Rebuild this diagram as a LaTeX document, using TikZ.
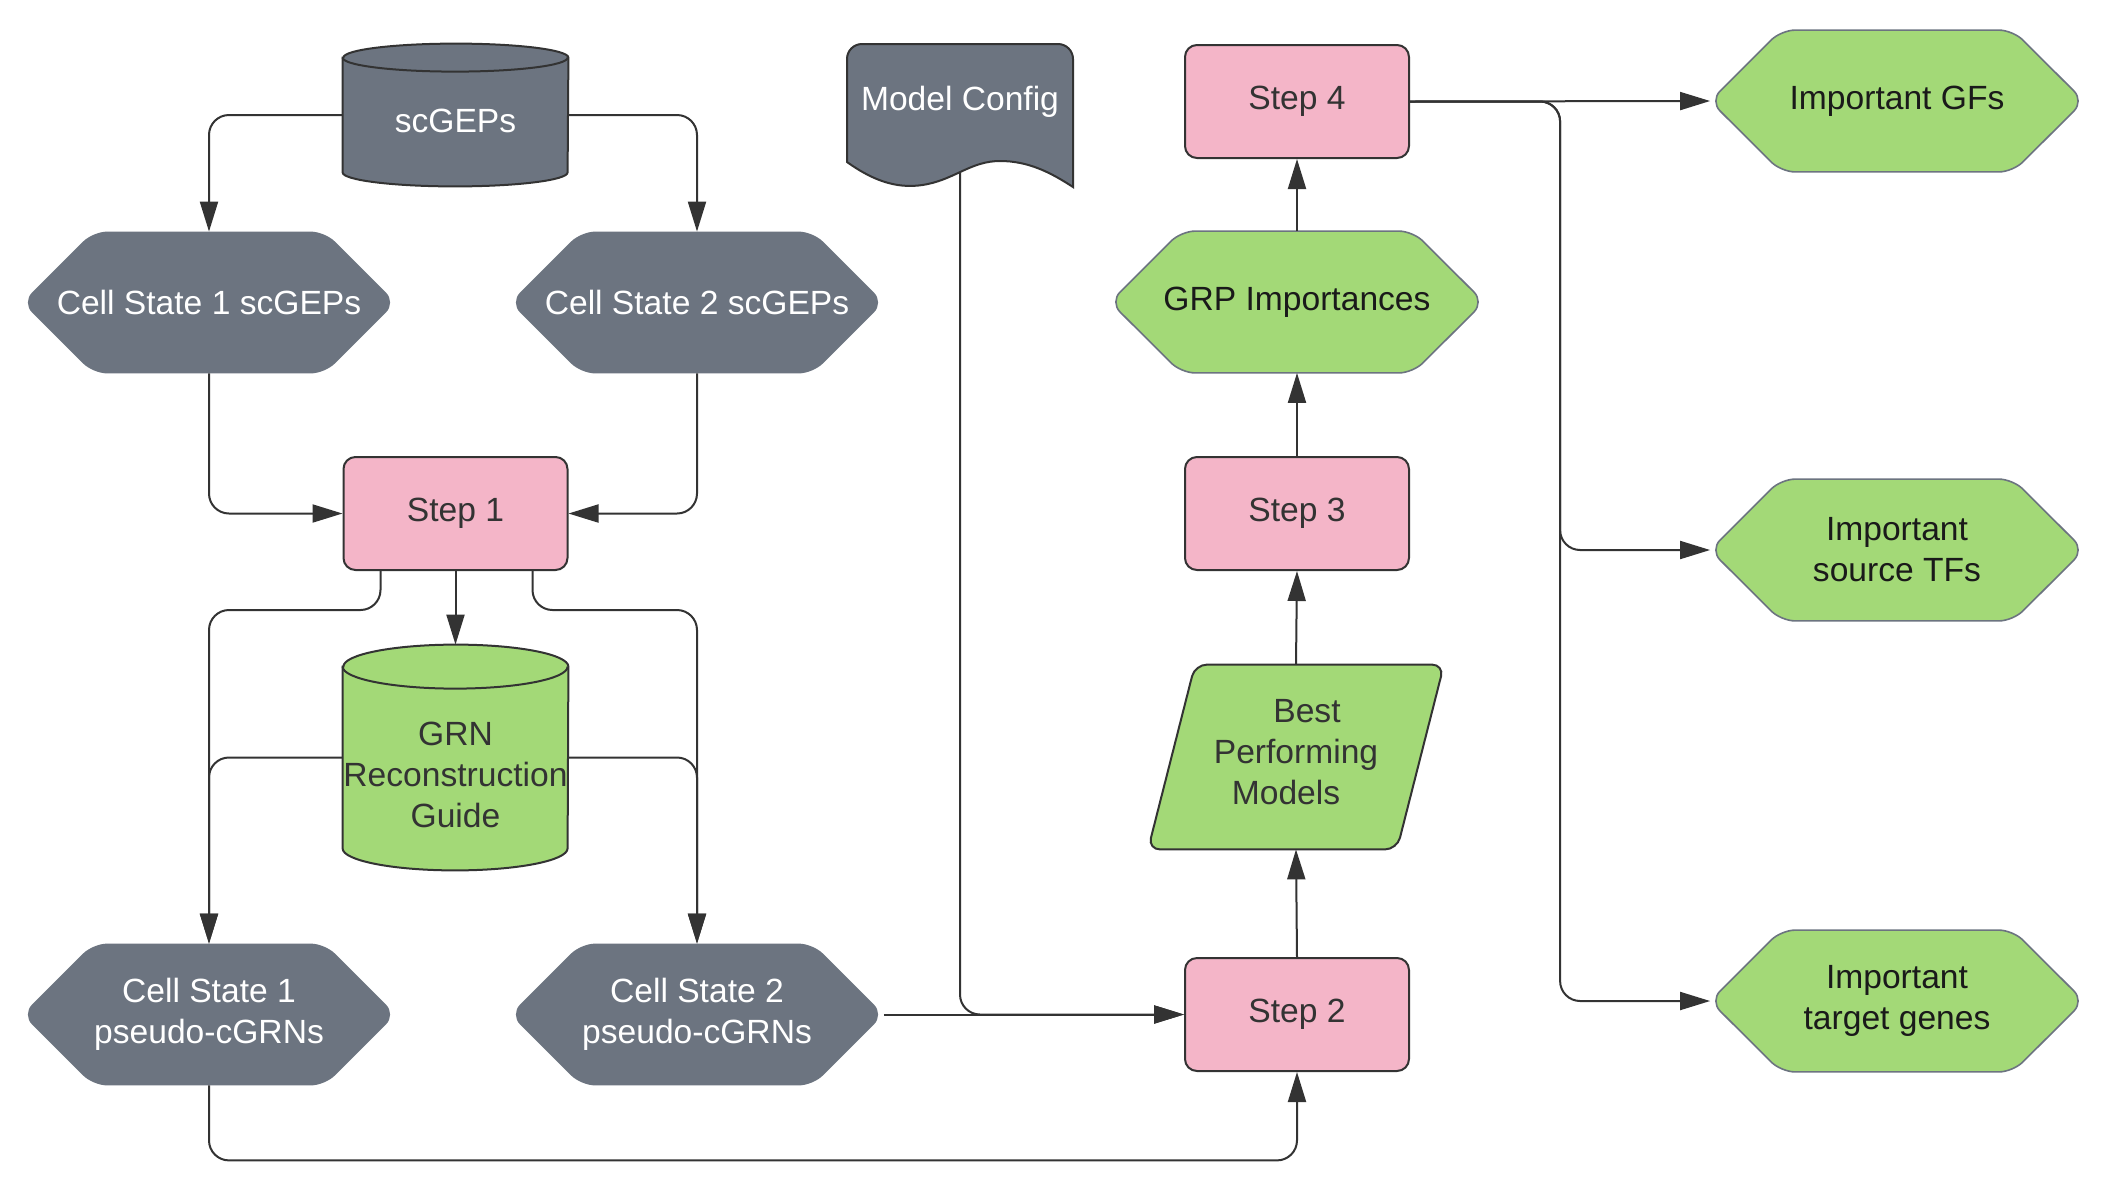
\documentclass[tikz,border=0pt]{standalone}
\usepackage{fontspec}
\setmainfont{Liberation Sans}
\usetikzlibrary{arrows.meta,calc}
\pgfdeclarelayer{bg}
\pgfsetlayers{bg,main}
\definecolor{cgray}{HTML}{6C7480}
\definecolor{cpink}{HTML}{F4B5C8}
\definecolor{cgreen}{HTML}{A3D977}
\definecolor{cline}{HTML}{333333}
\definecolor{ctext}{HTML}{333333}
\definecolor{cblack}{HTML}{1A1A1A}
% hexagon background: #1 node name, #2 style
\newcommand\myhexbg[2]{%
  \path[#2, rounded corners=7pt] (#1.north) -- ($(#1.north east)+(-71,0)$) -- (#1.east)
    -- ($(#1.south east)+(-71,0)$) -- ($(#1.south west)+(71,0)$) -- (#1.west)
    -- ($(#1.north west)+(71,0)$) -- cycle;}
% cylinder background: #1 node name, #2 y radius, #3 x radius
\newcommand\mycylbg[3]{%
  \path[fill=\cylfill, draw=cline, line width=1pt]
    ([yshift=-#2]#1.north west) -- ([yshift=#2]#1.south west)
    arc[start angle=180, end angle=360, x radius=#3, y radius=#2]
    -- ([yshift=-#2]#1.north east)
    arc[start angle=0, end angle=180, x radius=#3, y radius=#2] -- cycle;
  \path[draw=cline, line width=1pt] ([yshift=-#2]#1.north west)
    arc[start angle=180, end angle=360, x radius=#3, y radius=#2];}
\begin{document}
\begin{tikzpicture}[x=0.5pt,y=-0.5pt,
  base/.style={inner sep=0pt, align=center, font=\fontsize{16.8}{20.5}\selectfont},
  hexn/.style={base, minimum width=186.5pt, minimum height=70.5pt},
  grayhex/.style={fill=cgray},
  greenhex/.style={fill=cgreen, draw=cgray, line width=0.8pt},
  stepn/.style={base, draw=cline, line width=1pt, fill=cpink, rounded corners=6pt,
     minimum width=112pt, minimum height=56.5pt, text=ctext},
  conn/.style={draw=cline, line width=1pt, rounded corners=10pt,
     -{Triangle[length=15pt,width=9pt]}},
]
\useasboundingbox (0,0) rectangle (2117,1196);

% ---- nodes ----
\node[base, minimum width=112.5pt, minimum height=71pt] (scgeps) at (455.5,115) {};
\node[base, text=white] (scgepsT) at (455.5,121) {scGEPs};

\node[hexn, text=white] (cs1) at (209,302.5) {Cell State 1 scGEPs};
\node[hexn, text=white] (cs2) at (697,302.5) {Cell State 2 scGEPs};

\node[stepn] (step1) at (455.5,513.5) {Step 1};

\node[base, minimum width=112.5pt, minimum height=112.5pt] (grn) at (455.5,757.5) {};
\node[base, text=ctext] (grnT) at (455.5,775) {GRN\\Reconstruction\\Guide};

\node[hexn, text=white] (pc1) at (209,1014.5) {Cell State 1\\pseudo-cGRNs};
\node[hexn, text=white] (pc2) at (697,1014.5) {Cell State 2\\pseudo-cGRNs};

\node[base, minimum width=113pt, minimum height=64pt] (modelcfg) at (960,108) {};
\node[base, text=white] (modelcfgT) at (960,102) {Model Config};

\node[stepn] (step4) at (1297,101.5) {Step 4};
\node[hexn, text=cblack] (grp) at (1297,302) {GRP Importances};
\node[stepn] (step3) at (1297,513.5) {Step 3};
\node[base, minimum width=124pt, minimum height=92pt] (best) at (1296,757) {};
\node[base, text=ctext] (bestT) at (1296,752)
  {\hspace*{11pt}Best\\Performing\\Models\hspace*{10pt}};
\node[stepn] (step2) at (1297,1014.5) {Step 2};

\node[hexn, text=cblack] (igf) at (1897,101) {Important GFs};
\node[hexn, text=cblack] (itf) at (1897,550) {Important\\source TFs};
\node[hexn, text=cblack] (itg) at (1897,1001) {Important\\target genes};

% ---- shape backgrounds ----
\begin{pgfonlayer}{bg}
  \fill[white] (0,0) rectangle (2117,1196);
  \def\cylfill{cgray}
  \mycylbg{scgeps}{7pt}{56.25pt}
  \def\cylfill{cgreen}
  \mycylbg{grn}{11pt}{56.25pt}
  \myhexbg{cs1}{grayhex}
  \myhexbg{cs2}{grayhex}
  \myhexbg{pc1}{grayhex}
  \myhexbg{pc2}{grayhex}
  \myhexbg{grp}{greenhex}
  \myhexbg{igf}{greenhex}
  \myhexbg{itf}{greenhex}
  \myhexbg{itg}{greenhex}
  % document shape
  \path[fill=cgray, draw=cline, line width=1pt]
    (847,162) -- (847,59) arc[start angle=180, end angle=90, radius=7.5pt]
    -- (1058,44) arc[start angle=90, end angle=0, radius=7.5pt]
    -- (1073,187)
    .. controls (1050,172) and (1028,161) .. (1000,161)
    .. controls (972,161) and (956,178) .. (928,184)
    .. controls (900,190) and (875,182) .. (847,162) -- cycle;
  % parallelogram
  \path[fill=cgreen, draw=cline, line width=1pt, rounded corners=6pt]
    (best.north) -- ($(best.north)+(148,0)$) -- ($(best.south)+(101,0)$)
    -- ($(best.south)+(-148,0)$) -- ($(best.north)+(-101,0)$) -- cycle;
\end{pgfonlayer}

% ---- connectors ----
\draw[conn] (scgeps.west) -| (cs1.north);
\draw[conn] (scgeps.east) -| (cs2.north);
\draw[conn] (cs1.south) |- (step1.west);
\draw[conn] (cs2.south) |- (step1.east);
\draw[conn] (step1.south) -- (grn.north);
\draw[conn] ($(step1.south west)+(38,0)$) -- ($(step1.south west)+(38,39)$) -| (pc1.north);
\draw[conn] ($(step1.south east)+(-36,0)$) -- ($(step1.south east)+(-36,39)$) -| (pc2.north);
\draw[conn] (grn.west) -| (pc1.north);
\draw[conn] (grn.east) -| (pc2.north);
\draw[conn] (pc2.east) -- (step2.west);
\draw[conn] (modelcfg.south) |- (step2.west);
\draw[conn] (pc1.south) -- ($(pc1.south)+(0,75)$) -| (step2.south);
\draw[conn] (step2.north) -- (best.south);
\draw[conn] (best.north) -- (step3.south);
\draw[conn] (step3.north) -- (grp.south);
\draw[conn] (grp.north) -- (step4.south);
\draw[conn] (step4.east) -- (igf.west);
\draw[conn] (step4.east) -| ($(itf.west)+(-150,0)$) -- (itf.west);
\draw[conn] (step4.east) -| ($(itg.west)+(-150,0)$) -- (itg.west);
\end{tikzpicture}
\end{document}
